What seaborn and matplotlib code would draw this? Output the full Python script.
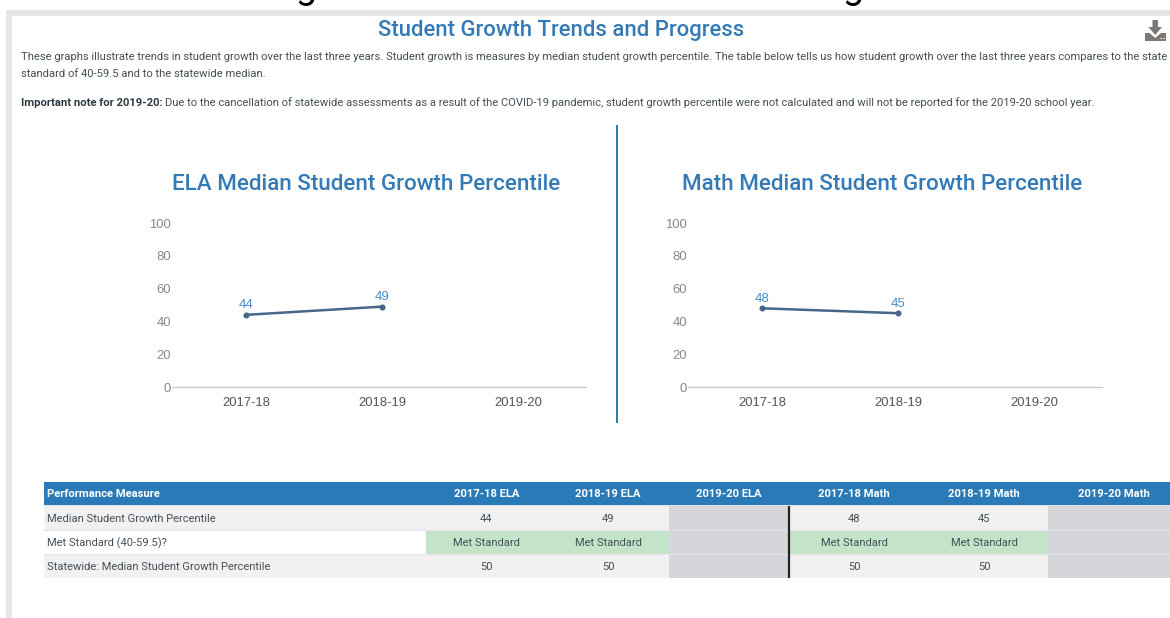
import matplotlib
matplotlib.use("Agg")
import matplotlib.pyplot as plt
from matplotlib.patches import Rectangle, Polygon
import numpy as np
import pandas as pd
import seaborn as sns

years = ["2017-18", "2018-19", "2019-20"]
ela_values = [44, 49, np.nan]
math_values = [48, 45, np.nan]
ela_title = "ELA Median Student Growth Percentile"
math_title = "Math Median Student Growth Percentile"
y_ticks = [0, 20, 40, 60, 80, 100]

table_header = ["Performance Measure", "2017-18 ELA", "2018-19 ELA", "2019-20 ELA",
                "2017-18 Math", "2018-19 Math", "2019-20 Math"]
row_growth = ["Median Student Growth Percentile", "44", "49", "", "48", "45", ""]
row_met = ["Met Standard (40-59.5)?", "Met Standard", "Met Standard", "",
           "Met Standard", "Met Standard", ""]
row_state = ["Statewide: Median Student Growth Percentile", "50", "50", "", "50", "50", ""]

W, H = 1170, 618
BLUE = "#2a7ab8"
TITLE = "#337ab7"
LINE = "#44678a"
TXT = "#454f57"

sns.set_theme(style="white")
plt.rcParams["font.family"] = ["Roboto", "DejaVu Sans"]

fig = plt.figure(figsize=(W / 100, H / 100), dpi=100, facecolor="white")
page = fig.add_axes([0, 0, 1, 1])
page.set_xlim(0, W)
page.set_ylim(H, 0)
page.axis("off")

# page frame
page.add_patch(Rectangle((6, 10), W - 6, 5.5, fc="#e6e6e6", ec="none"))
page.add_patch(Rectangle((6, 10), 5.5, H - 10, fc="#e6e6e6", ec="none"))

# clipped text from above the frame
for gx in (306, 853):
    page.text(gx, -2.5, "g", fontsize=27, color="black", ha="center",
              va="baseline", clip_on=True, family=["Roboto"])

page.text(561.5, 30.5, "Student Growth Trends and Progress", fontsize=15.95, fontweight="medium",
          color=TITLE, ha="center", va="center")
page.text(21, 57, "These graphs illustrate trends in student growth over the last three years. "
          "Student growth is measures by median student growth percentile. The table below tells us "
          "how student growth over the last three years compares to the state",
          fontsize=8.1, color=TXT, va="center")
page.text(21, 74, "standard of 40-59.5 and to the statewide median.", fontsize=8.1, color=TXT, va="center")
page.text(21, 103, "Important note for 2019-20:", fontsize=8.1, fontweight="bold",
          color="#2f3a42", va="center")
page.text(165, 103, "Due to the cancellation of statewide assessments as a result of the COVID-19 "
          "pandemic, student growth percentile were not calculated and will not be reported for the "
          "2019-20 school year.", fontsize=8.1, color=TXT, va="center")

# download icon
ICON = "#7d7776"
page.add_patch(Polygon([(1152.5, 20), (1158, 20), (1158, 27), (1162, 27), (1155.2, 35), (1148.5, 27), (1152.5, 27)],
                       fc=ICON, ec="none"))
page.add_patch(Polygon([(1145, 33), (1149.5, 33), (1155.2, 38), (1161, 33), (1166, 33), (1166, 41), (1145, 41)],
                       fc=ICON, ec="none"))
page.add_patch(Rectangle((1160, 38), 1.5, 1.2, fc="#d9d9d9", ec="none"))
page.add_patch(Rectangle((1163, 38), 1.5, 1.2, fc="#d9d9d9", ec="none"))

# divider between the charts
page.plot([617, 617], [125, 423], color=BLUE, lw=1.4, solid_capstyle="butt")


def line_chart(x0, x1, values, title, title_x):
    ax = fig.add_axes([x0 / W, 1 - 387 / H, (x1 - x0) / W, (387 - 223) / H])
    ax.patch.set_alpha(0)
    df = pd.DataFrame({"year": years, "value": values})
    sns.pointplot(data=df, x="year", y="value", order=years, color=LINE, ax=ax,
                  errorbar=None, markersize=3.0, linewidth=1.8)
    ax.set_xlim(-0.5, 2.5)
    ax.set_ylim(0, 100)
    ax.set_xlabel("")
    ax.set_ylabel("")
    ax.set_yticks(y_ticks)
    sns.despine(ax=ax, left=True, top=True, right=True)
    ax.spines["bottom"].set_color("#cccccc")
    ax.spines["bottom"].set_linewidth(1)
    ax.tick_params(axis="x", length=0, pad=7.5, labelsize=9.4, labelcolor="#555555")
    ax.tick_params(axis="y", length=0, pad=5, labelsize=9.4, labelcolor="#888888")
    for lab in ax.get_xticklabels() + ax.get_yticklabels():
        lab.set_family("Liberation Sans")
    for i, v in enumerate(values):
        if not np.isnan(v):
            ax.annotate(f"{v:.0f}", (i, v), xytext=(0, 2.5), textcoords="offset points",
                        ha="center", va="bottom", fontsize=9.5, color="#4a8cc7",
                        family="Liberation Sans")
    page.text(title_x, 184, title, fontsize=16.15, fontweight="medium", color=TITLE,
              ha="center", va="center")
    # the short axis stub left of zero
    page.plot([x0 - 6, x0], [387, 387], color="#cccccc", lw=1)
    return ax


line_chart(178, 586, ela_values, ela_title, 366)
line_chart(694, 1102, math_values, math_title, 882)

# table
col_edges = [44, 426, 547, 669, 789, 919, 1048, 1170]
col_centers = [486.5, 608, 729, 854, 984, 1114]
row_edges = [(482, 505), (506, 530), (531, 554), (555, 578)]
G1 = "#f1f1f1"
GREEN = "#c3e4c8"
MISSING = "#d5d6da"
SEP = "#e3e5ea"

page.add_patch(Rectangle((44, 482), W - 44, 23, fc=BLUE, ec="none"))
page.add_patch(Rectangle((44, 505), W - 44, 73, fc=SEP, ec="none"))
page.text(47, 494, table_header[0], fontsize=8.1, fontweight="bold", color="white", va="center")
for cx, lab in zip(col_centers, table_header[1:]):
    page.text(cx, 494, lab, fontsize=8.1, fontweight="bold", color="white", ha="center", va="center")

rows = [row_growth, row_met, row_state]
for r, (row, (top, bot)) in enumerate(zip(rows, row_edges[1:])):
    bg = "white" if r == 1 else G1
    page.add_patch(Rectangle((44, top), W - 44, bot - top, fc=bg, ec="none"))
    page.text(47, (top + bot) / 2 + 0.5, row[0], fontsize=8.05, color=TXT, va="center")
    for c, cell in enumerate(row[1:]):
        left, right = col_edges[c + 1], col_edges[c + 2]
        if c in (2, 5):
            page.add_patch(Rectangle((left, top), right - left, bot - top, fc=MISSING, ec="none"))
        elif r == 1:
            page.add_patch(Rectangle((left, top), right - left, bot - top, fc=GREEN, ec="none"))
        if cell:
            page.text(col_centers[c], (top + bot) / 2 + 0.5, cell, fontsize=8.05, color=TXT,
                      ha="center", va="center")
page.plot([789, 789], [506, 578], color="#222222", lw=1.6, solid_capstyle="butt")

fig.savefig("out.png", dpi=100, facecolor="white")
